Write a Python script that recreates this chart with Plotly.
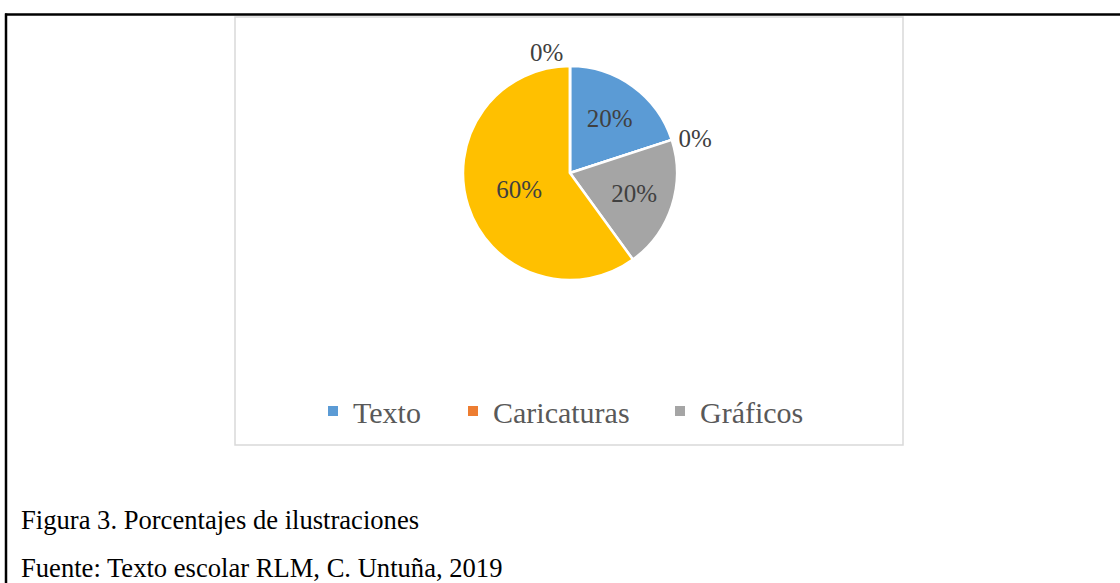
import plotly.graph_objects as go

# Data
labels = ["Texto", "Caricaturas", "Gráficos", "Fotografías", "Otros"]
values = [20, 0, 20, 60, 0]
colors = ["#5B9BD5", "#ED7D31", "#A5A5A5", "#FFC000", "#4472C4"]
text_pos = ["inside", "outside", "inside", "inside", "outside"]
legend_labels = ["Texto", "Caricaturas", "Gráficos"]
legend_colors = ["#5B9BD5", "#ED7D31", "#A5A5A5"]

caption1 = "Figura 3. Porcentajes de ilustraciones"
caption2 = "Fuente: Texto escolar RLM, C. Untuña, 2019"

W, H = 1120, 583
FONT = "Liberation Serif, Times New Roman, serif"

def px(x):
    return x / W

def py(y):
    return 1 - y / H

cx, cy, r = 570, 173, 107

fig = go.Figure()
fig.add_trace(go.Pie(
    labels=labels,
    values=values,
    sort=False,
    direction="clockwise",
    rotation=0,
    marker=dict(colors=colors, line=dict(color="white", width=2.5)),
    textinfo="percent",
    texttemplate="%{percent:.0%}",
    textposition=text_pos,
    insidetextorientation="horizontal",
    textfont=dict(family=FONT, size=25, color="#404040"),
    showlegend=False,
    domain=dict(x=[px(cx - r), px(cx + r)], y=[py(cy + r), py(cy - r)]),
    hoverinfo="label+percent",
))

legend_names = ["legend", "legend2", "legend3"]
legend_marker_x = [333, 473, 680]
for name, col, lg in zip(legend_labels, legend_colors, legend_names):
    fig.add_trace(go.Scatter(
        x=[None], y=[None], mode="markers", name=name,
        marker=dict(symbol="square", size=10, color=col),
        showlegend=True, legend=lg,
    ))

shapes = [
    # outer black frame (top and left)
    dict(type="line", xref="paper", yref="paper", x0=px(5), x1=1.0, y0=py(14.5), y1=py(14.5),
         line=dict(color="black", width=2.5)),
    dict(type="line", xref="paper", yref="paper", x0=px(6), x1=px(6), y0=py(13.5), y1=0,
         line=dict(color="black", width=2.5)),
    # chart area border
    dict(type="rect", xref="paper", yref="paper", x0=px(235), x1=px(903), y0=py(445), y1=py(17),
         line=dict(color="#D9D9D9", width=1.5), fillcolor="rgba(0,0,0,0)"),
]

annotations = [
    dict(text=caption1, x=px(19), y=py(520), xref="paper", yref="paper",
         xanchor="left", yanchor="middle", showarrow=False,
         font=dict(family=FONT, size=26.6, color="black")),
    dict(text=caption2, x=px(19), y=py(568), xref="paper", yref="paper",
         xanchor="left", yanchor="middle", showarrow=False,
         font=dict(family=FONT, size=26.6, color="black")),
]

legend_common = dict(
    orientation="h", yanchor="middle", xanchor="left",
    font=dict(family=FONT, size=30, color="#595959"),
    bgcolor="rgba(0,0,0,0)",
)
layout_legends = {}
for lg, mx in zip(legend_names, legend_marker_x):
    layout_legends[lg] = dict(legend_common, x=px(mx - 20), y=py(411))

fig.update_layout(
    width=W, height=H,
    margin=dict(l=0, r=0, t=0, b=0),
    paper_bgcolor="white",
    plot_bgcolor="white",
    xaxis=dict(visible=False),
    yaxis=dict(visible=False),
    shapes=shapes,
    annotations=annotations,
    **layout_legends,
)

fig.write_html("out.html", config={"displayModeBar": False},
               post_script="document.body.style.margin='0px';")
